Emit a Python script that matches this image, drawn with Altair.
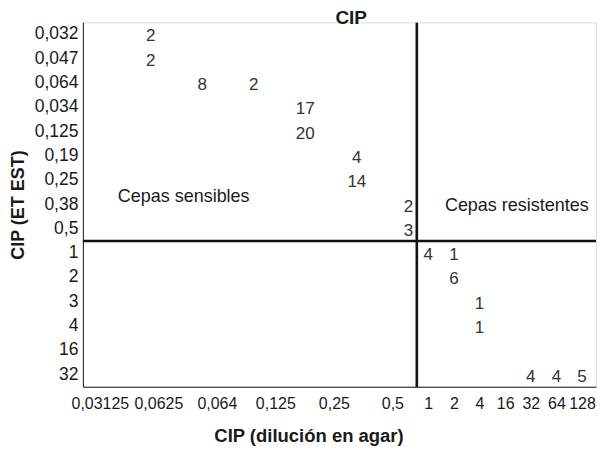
import altair as alt
import pandas as pd

# ---- data ----
y_cats = ["0,032", "0,047", "0,064", "0,034", "0,125", "0,19", "0,25", "0,38",
          "0,5", "1", "2", "3", "4", "16", "32"]
x_left = ["0,03125", "0,0625", "0,064", "0,125", "0,25", "0,5"]
x_right = ["1", "2", "4", "16", "32", "64", "128"]

left_agar = ["0,03125", "0,03125", "0,0625", "0,064", "0,125", "0,125", "0,25", "0,25", "0,5", "0,5"]
left_etest = ["0,032", "0,047", "0,064", "0,064", "0,034", "0,125", "0,19", "0,25", "0,38", "0,5"]
left_n = [2, 2, 8, 2, 17, 20, 4, 14, 2, 3]

right_agar = ["1", "2", "2", "4", "4", "32", "64", "128"]
right_etest = ["1", "1", "2", "3", "4", "32", "32", "32"]
right_n = [4, 1, 6, 1, 1, 4, 4, 5]

zone_text = ["Cepas sensibles", "Cepas resistentes"]
zone_agar = ["0,03125", "2"]
zone_etest = ["0,38", "0,38"]

breakpoint_etest = ["1"]

# ---- styling ----
SANS = "Liberation Sans, Arial, Helvetica, sans-serif"
H = 365
WL = 334
WR = 180
INK = "#1a1a1a"

yscale = alt.Scale(type="band", domain=y_cats, paddingInner=0, paddingOuter=0)
yaxis_left = alt.Axis(title="CIP (ET EST)", titleFont=SANS, titleFontSize=18, titleFontWeight="bold",
                      titleColor=INK, titlePadding=7, labelFont=SANS, labelFontSize=17.5,
                      labelColor=INK, labelPadding=5, ticks=False, domainColor=INK,
                      domainWidth=1, grid=False)
yaxis_right = alt.Axis(title=None, labels=False, ticks=False, domainColor="#111111",
                       domainWidth=2.6, grid=False)

xaxis_common = dict(ticks=False, domainColor=INK, domainWidth=1, grid=False,
                    labelFont=SANS, labelFontSize=16, labelColor=INK, labelPadding=9,
                    labelAngle=0)

zones_df = pd.DataFrame({"agar": zone_agar, "etest": zone_etest, "t": zone_text})
left_df = pd.DataFrame({"agar": left_agar, "etest": left_etest, "n": left_n})
right_df = pd.DataFrame({"agar": right_agar, "etest": right_etest, "n": right_n})
bp_df = pd.DataFrame({"etest": breakpoint_etest})

# ---- left panel (sensitive side) ----
left_label_scale = alt.Scale(type="point", domain=x_left, padding=0.35, align=0.415)
left_data_scale = alt.Scale(type="point", domain=x_left, padding=0.736, align=0.895)

left_zone = alt.Chart(zones_df).transform_filter(
    alt.datum.t == zone_text[0]
).mark_text(align="left", baseline="middle", font=SANS, fontSize=18, color=INK, dx=18, dy=-8).encode(
    x=alt.X("agar:N", scale=left_label_scale,
            axis=alt.Axis(title="CIP (dilución en agar)", titleFont=SANS, titleFontSize=18.5,
                          titleFontWeight="bold", titleColor=INK, titlePadding=15,
                          titleX=226, titleAlign="center", **xaxis_common)),
    y=alt.Y("etest:N", scale=yscale, axis=yaxis_left),
    text="t:N",
)

left_nums = alt.Chart(left_df).mark_text(
    align="center", baseline="middle", font=SANS, fontSize=17, color="#333333", dy=2
).encode(
    x=alt.X("agar:N", scale=left_data_scale, axis=None),
    y=alt.Y("etest:N", scale=yscale, axis=yaxis_left),
    text="n:Q",
)

left_rule = alt.Chart(bp_df).mark_rule(color="#111111", strokeWidth=2.6).encode(
    y=alt.Y("etest:N", scale=yscale, bandPosition=0, axis=yaxis_left),
)

left = alt.layer(left_zone, left_nums, left_rule).resolve_scale(x="independent").properties(
    width=WL, height=H)

# ---- right panel (resistant side) ----
right_scale = alt.Scale(type="point", domain=x_right, padding=0.506, align=0.4615)
right_xaxis = alt.Axis(title=None, **xaxis_common)

right_zone = alt.Chart(zones_df).transform_filter(
    alt.datum.t == zone_text[1]
).mark_text(align="left", baseline="middle", font=SANS, fontSize=18, color=INK, dx=-9, dy=1).encode(
    x=alt.X("agar:N", scale=right_scale, axis=right_xaxis),
    y=alt.Y("etest:N", scale=yscale, axis=yaxis_right),
    text="t:N",
)

right_nums = alt.Chart(right_df).mark_text(
    align="center", baseline="middle", font=SANS, fontSize=17, color="#333333", dy=2
).encode(
    x=alt.X("agar:N", scale=right_scale, axis=right_xaxis),
    y=alt.Y("etest:N", scale=yscale, axis=yaxis_right),
    text="n:Q",
)

right_rule = alt.Chart(bp_df).mark_rule(color="#111111", strokeWidth=2.6).encode(
    y=alt.Y("etest:N", scale=yscale, bandPosition=0, axis=yaxis_right),
)

right = alt.layer(right_zone, right_nums, right_rule).properties(width=WR, height=H)

chart = alt.hconcat(left, right, spacing=0, bounds="flush").properties(
    title=alt.TitleParams("CIP", font=SANS, fontSize=19, fontWeight="bold", color=INK,
                          anchor="middle", dx=48, offset=-6),
    padding={"left": 0, "top": 0, "right": 0, "bottom": 0},
).configure_view(stroke=None).configure(background="white")

chart.save("out.html", embed_options={"renderer": "svg", "actions": False})
